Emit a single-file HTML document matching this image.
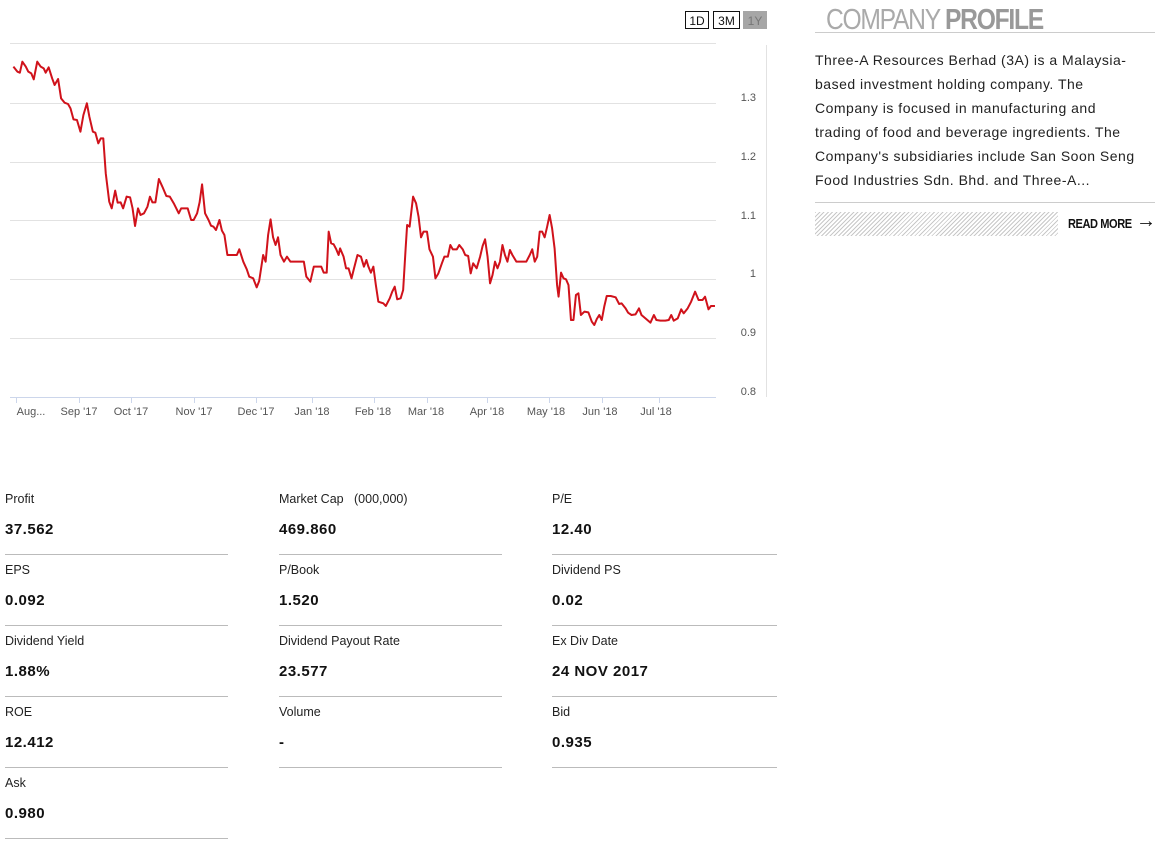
<!DOCTYPE html>
<html><head><meta charset="utf-8"><style>
body{margin:0;width:1161px;height:841px;background:#fff;font-family:"Liberation Sans",sans-serif;position:relative;overflow:hidden;color:#111}
.btn{position:absolute;top:11px;height:18px;border:1px solid #111;font-size:12px;line-height:18px;text-align:center;box-sizing:border-box}
.cell{position:absolute;width:223px;height:71px;border-bottom:1px solid #bbb;box-sizing:border-box}
.cell .l{position:absolute;top:8px;left:0;font-size:12.5px;color:#222}
.cell .v{position:absolute;top:37px;left:0;font-size:15px;font-weight:bold;letter-spacing:0.5px}
</style></head><body>
<div class="btn" style="left:685px;width:24px">1D</div>
<div class="btn" style="left:713px;width:27px">3M</div>
<div class="btn" style="left:743px;width:24px;background:#a6a6a6;border-color:#a6a6a6;color:#777">1Y</div>

<svg width="780" height="420" style="position:absolute;left:0;top:0" font-family="Liberation Sans, sans-serif">
<g stroke="#e2e2e2" stroke-width="1">
<line x1="10" x2="716" y1="43.5" y2="43.5"/><line x1="10" x2="716" y1="103.5" y2="103.5"/>
<line x1="10" x2="716" y1="162.5" y2="162.5"/><line x1="10" x2="716" y1="220.5" y2="220.5"/>
<line x1="10" x2="716" y1="279.5" y2="279.5"/><line x1="10" x2="716" y1="338.5" y2="338.5"/>
<line x1="10" x2="716" y1="397.5" y2="397.5" stroke="#ccd6eb"/>
<line x1="766.5" x2="766.5" y1="45" y2="397"/>
</g>
<g stroke="#ccd6eb"><line x1="16.5" x2="16.5" y1="397" y2="403"/><line x1="79.5" x2="79.5" y1="397" y2="403"/><line x1="131.5" x2="131.5" y1="397" y2="403"/><line x1="194.5" x2="194.5" y1="397" y2="403"/><line x1="256.5" x2="256.5" y1="397" y2="403"/><line x1="312.5" x2="312.5" y1="397" y2="403"/><line x1="374.5" x2="374.5" y1="397" y2="403"/><line x1="427.5" x2="427.5" y1="397" y2="403"/><line x1="487.5" x2="487.5" y1="397" y2="403"/><line x1="549.5" x2="549.5" y1="397" y2="403"/><line x1="602.5" x2="602.5" y1="397" y2="403"/><line x1="659.5" x2="659.5" y1="397" y2="403"/></g>
<g font-size="11" fill="#555" text-anchor="middle">
<text x="31" y="415">Aug...</text><text x="79" y="415">Sep '17</text><text x="131" y="415">Oct '17</text><text x="194" y="415">Nov '17</text><text x="256" y="415">Dec '17</text><text x="312" y="415">Jan '18</text><text x="373" y="415">Feb '18</text><text x="426" y="415">Mar '18</text><text x="487" y="415">Apr '18</text><text x="546" y="415">May '18</text><text x="600" y="415">Jun '18</text><text x="656" y="415">Jul '18</text>
</g>
<g font-size="11" fill="#555" text-anchor="end">
<text x="756" y="101">1.3</text><text x="756" y="160">1.2</text><text x="756" y="219">1.1</text><text x="756" y="277">1</text><text x="756" y="336">0.9</text><text x="756" y="395">0.8</text>
</g>
<g transform="scale(0.4965,0.33333)">
<polyline fill="none" stroke="#d0121b" stroke-width="2" vector-effect="non-scaling-stroke" stroke-linejoin="round" points="27,200 35,215 40,218 45,185 52,200 57,215 63,220 68,238 75,185 82,200 88,205 92,218 98,202 105,235 110,255 117,237 123,295 130,308 137,312 142,325 148,358 155,360 162,395 168,345 175,310 180,350 187,395 192,398 198,430 203,415 208,415 213,520 220,605 225,625 232,572 237,608 243,607 248,625 255,590 262,592 267,625 272,678 278,625 283,645 290,640 297,620 302,590 307,607 313,607 320,537 327,560 335,588 342,590 350,610 360,640 365,625 372,625 378,625 385,660 390,660 397,640 402,607 407,553 413,640 420,660 425,677 430,680 435,690 442,660 447,692 452,705 458,765 470,765 477,765 482,748 490,785 497,808 502,830 510,835 517,862 522,843 530,765 535,785 540,705 545,658 550,712 555,735 560,712 565,765 572,785 578,770 585,785 595,785 605,785 612,785 617,830 625,845 632,800 640,800 647,800 652,818 658,818 662,695 667,730 672,733 677,747 682,765 685,745 692,770 697,805 702,805 708,835 713,805 720,765 727,770 733,800 738,780 742,800 747,818 752,800 757,855 762,905 772,910 777,918 785,895 790,875 795,860 800,898 807,895 812,870 817,745 820,675 825,680 832,590 838,610 843,650 848,712 853,695 860,695 865,748 872,770 877,835 883,820 890,790 895,770 902,770 907,735 912,748 920,748 925,735 932,748 937,765 943,768 948,820 953,790 960,805 967,770 972,738 977,718 982,770 987,850 992,825 997,785 1002,805 1007,785 1012,735 1017,765 1022,785 1027,750 1032,765 1040,785 1050,785 1060,785 1067,765 1072,748 1077,785 1082,770 1087,695 1092,695 1097,712 1102,680 1107,645 1112,685 1117,745 1122,855 1125,890 1130,818 1135,835 1140,838 1145,855 1150,960 1155,960 1160,885 1165,880 1170,945 1177,935 1185,937 1192,965 1197,975 1202,957 1207,945 1212,960 1217,920 1222,888 1230,888 1240,892 1247,912 1252,910 1260,925 1265,938 1272,945 1280,943 1287,925 1292,945 1300,955 1310,968 1317,945 1322,960 1330,962 1340,962 1347,960 1352,945 1357,962 1365,955 1372,928 1377,940 1385,925 1392,905 1400,875 1407,900 1415,900 1420,890 1427,928 1432,918 1440,918"/>
</g>
</svg>

<div style="position:absolute;left:826px;top:4px;font-size:29px;color:#aaa;letter-spacing:-1.5px;transform:scaleX(0.85);transform-origin:left top;white-space:nowrap">COMPANY <b style="color:#999">PROFILE</b></div>
<div style="position:absolute;left:815px;top:32px;width:340px;border-top:1px solid #ccc"></div>
<div style="position:absolute;left:815px;top:48px;font-size:14px;line-height:24px;color:#222;letter-spacing:0.5px;white-space:nowrap">Three-A Resources Berhad (3A) is a Malaysia-<br>based investment holding company. The<br>Company is focused in manufacturing and<br>trading of food and beverage ingredients. The<br>Company's subsidiaries include San Soon Seng<br>Food Industries Sdn. Bhd. and Three-A...</div>
<div style="position:absolute;left:815px;top:202px;width:340px;border-top:1px solid #ccc"></div>
<div style="position:absolute;left:815px;top:212px;width:243px;height:24px;background:repeating-linear-gradient(135deg,#c8c8c8 0 1px,#fff 1px 3px)"></div>
<div style="position:absolute;left:1068px;top:216px;font-size:13px;font-weight:bold;letter-spacing:-0.5px;transform:scaleX(0.85);transform-origin:left top">READ MORE</div>
<div style="position:absolute;left:1136px;top:210px;font-size:20px;font-weight:bold">→</div>

<div class="cell" style="left:5px;top:484px"><div class="l">Profit</div><div class="v">37.562</div></div>
<div class="cell" style="left:279px;top:484px"><div class="l">Market Cap &nbsp;&nbsp;(000,000)</div><div class="v">469.860</div></div>
<div class="cell" style="left:552px;top:484px;width:225px"><div class="l">P/E</div><div class="v">12.40</div></div>
<div class="cell" style="left:5px;top:555px"><div class="l">EPS</div><div class="v">0.092</div></div>
<div class="cell" style="left:279px;top:555px"><div class="l">P/Book</div><div class="v">1.520</div></div>
<div class="cell" style="left:552px;top:555px;width:225px"><div class="l">Dividend PS</div><div class="v">0.02</div></div>
<div class="cell" style="left:5px;top:626px"><div class="l">Dividend Yield</div><div class="v">1.88%</div></div>
<div class="cell" style="left:279px;top:626px"><div class="l">Dividend Payout Rate</div><div class="v">23.577</div></div>
<div class="cell" style="left:552px;top:626px;width:225px"><div class="l">Ex Div Date</div><div class="v">24 NOV 2017</div></div>
<div class="cell" style="left:5px;top:697px"><div class="l">ROE</div><div class="v">12.412</div></div>
<div class="cell" style="left:279px;top:697px"><div class="l">Volume</div><div class="v">-</div></div>
<div class="cell" style="left:552px;top:697px;width:225px"><div class="l">Bid</div><div class="v">0.935</div></div>
<div class="cell" style="left:5px;top:768px"><div class="l">Ask</div><div class="v">0.980</div></div>
</body></html>
